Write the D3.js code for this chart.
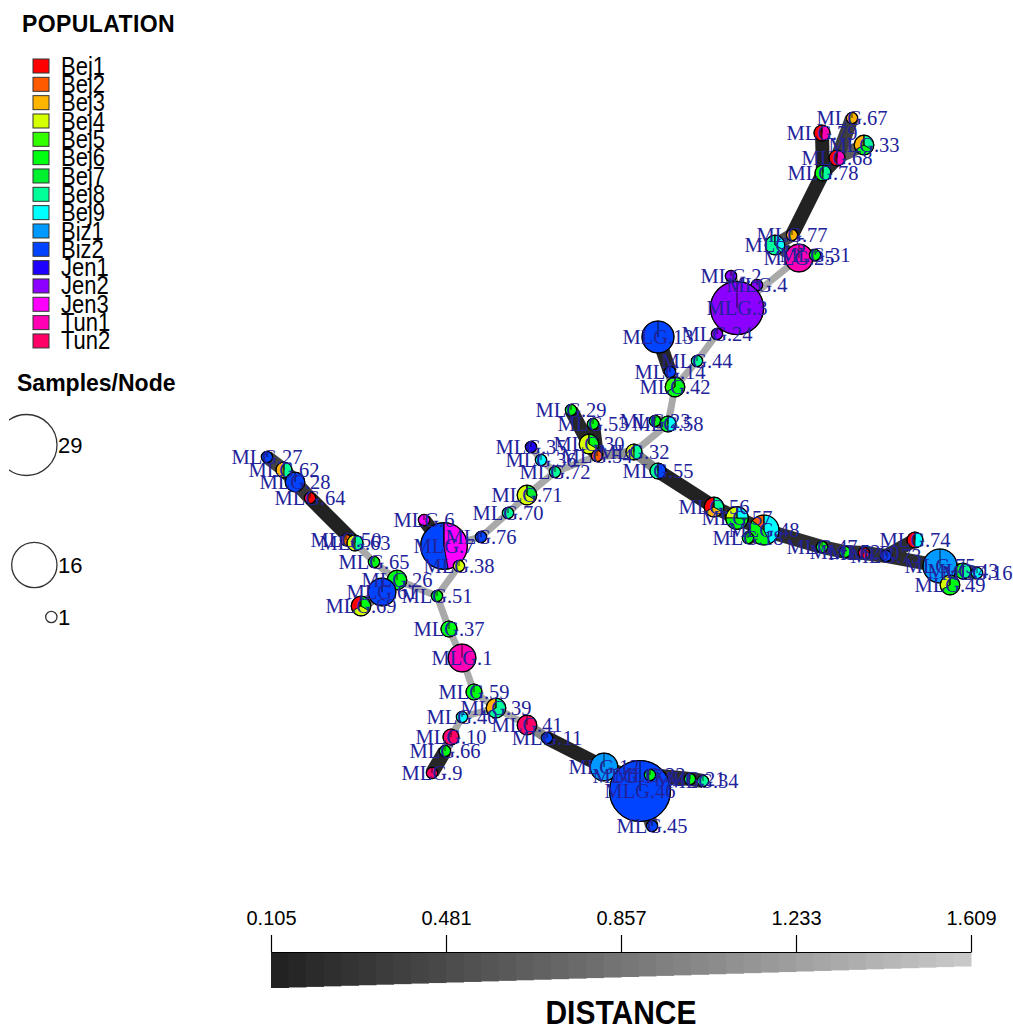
<!DOCTYPE html>
<html>
<head>
<meta charset="utf-8">
<style>
  body { margin: 0; background: #fff; }
  svg { display: block; }
  .mlg-label { font-family: "Liberation Serif", "Times New Roman", serif; font-size: 20.5px; fill: #22229a; }
  .legend-title { font-family: "Liberation Sans", Arial, sans-serif; font-weight: bold; font-size: 23px; }
  .legend-text { font-family: "Liberation Sans", Arial, sans-serif; font-size: 22px; }
</style>
</head>
<body>
<div id="chart"></div>
<script src="https://d3js.org/d3.v7.min.js"></script>
<script>
  // Populations and their colours
  const populations = ['Bej1', 'Bej2', 'Bej3', 'Bej4', 'Bej5', 'Bej6', 'Bej7', 'Bej8', 'Bej9',
    'Biz1', 'Biz2', 'Jen1', 'Jen2', 'Jen3', 'Tun1', 'Tun2'];
  const popColors = ['#ff0000', '#ff5a00', '#ffb400', '#d4ff00', '#33ff00', '#00ff11', '#00f030', '#00ff99', '#00ffff',
    '#0099ff', '#0044ff', '#1e00ff', '#8c00ff', '#ff00ff', '#ff00b4', '#ff0066'];

  // Multilocus genotypes (network nodes) with layout position and composition
  const mlgNames = ['MLG.67', 'MLG.79', 'MLG.33', 'MLG.68', 'MLG.78', 'MLG.77', 'MLG.5', 'MLG.25', 'MLG.31', 'MLG.2',
    'MLG.4', 'MLG.3', 'MLG.24', 'MLG.13', 'MLG.44', 'MLG.14', 'MLG.42', 'MLG.23', 'MLG.58', 'MLG.29',
    'MLG.53', 'MLG.30', 'MLG.54', 'MLG.32', 'MLG.55', 'MLG.35', 'MLG.36', 'MLG.72', 'MLG.71', 'MLG.70',
    'MLG.76', 'MLG.6', 'MLG.7', 'MLG.38', 'MLG.27', 'MLG.62', 'MLG.28', 'MLG.64', 'MLG.50', 'MLG.63',
    'MLG.65', 'MLG.26', 'MLG.61', 'MLG.69', 'MLG.51', 'MLG.37', 'MLG.1', 'MLG.59', 'MLG.39', 'MLG.40',
    'MLG.41', 'MLG.10', 'MLG.11', 'MLG.66', 'MLG.9', 'MLG.12', 'MLG.17', 'MLG.46', 'MLG.22', 'MLG.21',
    'MLG.34', 'MLG.45', 'MLG.56', 'MLG.57', 'MLG.48', 'MLG.18', 'MLG.47', 'MLG.52', 'MLG.60', 'MLG.73',
    'MLG.74', 'MLG.75', 'MLG.43', 'MLG.16', 'MLG.49'];
  const layoutX = [852, 822, 864, 837, 823, 792, 775, 799, 815, 731,
    757, 737, 717, 658, 697, 670, 675, 655, 668, 571,
    593, 589, 597, 634, 658, 531, 541, 555, 527, 508,
    481, 424, 444, 459, 267, 284, 295, 310, 346, 355,
    374, 397, 382, 361, 437, 449, 462, 474, 496, 462,
    527, 451, 547, 445, 432, 604, 628, 640, 650, 690,
    703, 652, 714, 737, 764, 748, 822, 845, 864, 886,
    915, 940, 963, 977, 950];
  const layoutY = [118, 133, 145, 158, 173, 235, 245, 258, 255, 276,
    285, 308, 334, 337, 361, 372, 387, 421, 424, 410,
    424, 444, 456, 452, 471, 447, 460, 472, 495, 513,
    537, 520, 546, 566, 457, 470, 482, 498, 540, 543,
    562, 580, 592, 606, 596, 629, 658, 692, 708, 717,
    725, 737, 738, 751, 773, 767, 776, 791, 775, 779,
    781, 826, 507, 518, 530, 538, 547, 552, 553, 556,
    540, 566, 571, 573, 585];
  const mlgCounts = [
    { Bej3: 1 }, { Bej1: 1, Tun1: 1 }, { Bej3: 1, Bej6: 1, Bej8: 1 }, { Bej1: 1, Tun1: 1 }, { Bej6: 1, Bej8: 1 },
    { Bej3: 1 }, { Bej8: 2, Bej9: 1 }, { Tun1: 6 }, { Bej6: 1 }, { Jen2: 1 },
    { Jen2: 1 }, { Jen2: 22 }, { Jen2: 1 }, { Biz2: 8 }, { Bej8: 1 },
    { Biz2: 1 }, { Bej5: 1, Bej6: 2 }, { Bej6: 1 }, { Bej6: 1, Bej9: 1 }, { Bej6: 1 },
    { Bej6: 1 }, { Bej4: 2, Bej6: 1 }, { Bej2: 1 }, { Bej4: 1, Bej8: 1 }, { Bej8: 1, Biz2: 1 },
    { Jen1: 1 }, { Bej9: 1 }, { Bej8: 1 }, { Bej4: 2, Bej7: 1 }, { Bej8: 1 },
    { Biz2: 1 }, { Jen3: 1 }, { Biz2: 9, Jen3: 8 }, { Bej4: 1 }, { Biz2: 1 },
    { Bej3: 1, Bej8: 1 }, { Biz2: 3 }, { Bej1: 1 }, { Bej2: 1 }, { Bej4: 1, Bej8: 1 },
    { Bej6: 1 }, { Bej6: 3 }, { Biz2: 6 }, { Bej1: 1, Bej4: 1, Bej6: 1 }, { Bej6: 1 },
    { Bej6: 2 }, { Tun1: 6 }, { Bej6: 2 }, { Bej3: 1, Bej8: 2 }, { Bej9: 1 },
    { Tun2: 3 }, { Tun2: 2 }, { Biz2: 1 }, { Bej6: 1 }, { Tun2: 1 },
    { Biz1: 6 }, { Bej3: 1, Bej6: 1, Bej8: 1 }, { Biz2: 29 }, { Bej6: 1 }, { Bej6: 1 },
    { Bej8: 1 }, { Biz2: 1 }, { Bej1: 1, Bej3: 1, Bej8: 1 }, { Bej4: 1, Bej6: 2, Bej9: 1 }, { Bej2: 1, Bej6: 3, Bej9: 3 },
    { Bej6: 1 }, { Bej6: 1 }, { Bej6: 1 }, { Bej1: 1 }, { Biz2: 1 },
    { Bej1: 1, Bej9: 1 }, { Biz1: 9 }, { Bej6: 1, Bej8: 1 }, { Bej9: 1 }, { Bej4: 1, Bej6: 2 }
  ];

  // Minimum spanning network edges and genetic distance
  const edgeFrom = ['MLG.67', 'MLG.79', 'MLG.68', 'MLG.33', 'MLG.78', 'MLG.77', 'MLG.5', 'MLG.25', 'MLG.25', 'MLG.3',
    'MLG.3', 'MLG.3', 'MLG.24', 'MLG.44', 'MLG.13', 'MLG.14', 'MLG.42', 'MLG.58', 'MLG.58', 'MLG.32',
    'MLG.55', 'MLG.56', 'MLG.57', 'MLG.48', 'MLG.48', 'MLG.47', 'MLG.52', 'MLG.60', 'MLG.73', 'MLG.73',
    'MLG.75', 'MLG.43', 'MLG.75', 'MLG.32', 'MLG.54', 'MLG.30', 'MLG.54', 'MLG.54', 'MLG.72', 'MLG.36',
    'MLG.72', 'MLG.71', 'MLG.70', 'MLG.76', 'MLG.7', 'MLG.7', 'MLG.38', 'MLG.51', 'MLG.37', 'MLG.1',
    'MLG.59', 'MLG.39', 'MLG.39', 'MLG.40', 'MLG.10', 'MLG.66', 'MLG.41', 'MLG.11', 'MLG.12', 'MLG.17',
    'MLG.46', 'MLG.22', 'MLG.21', 'MLG.46', 'MLG.51', 'MLG.26', 'MLG.61', 'MLG.26', 'MLG.65', 'MLG.63',
    'MLG.63', 'MLG.64', 'MLG.28', 'MLG.62'];
  const edgeTo = ['MLG.68', 'MLG.78', 'MLG.78', 'MLG.68', 'MLG.77', 'MLG.5', 'MLG.25', 'MLG.31', 'MLG.3', 'MLG.2',
    'MLG.4', 'MLG.24', 'MLG.44', 'MLG.42', 'MLG.14', 'MLG.42', 'MLG.58', 'MLG.23', 'MLG.32', 'MLG.55',
    'MLG.56', 'MLG.57', 'MLG.48', 'MLG.18', 'MLG.47', 'MLG.52', 'MLG.60', 'MLG.73', 'MLG.75', 'MLG.74',
    'MLG.43', 'MLG.16', 'MLG.49', 'MLG.54', 'MLG.30', 'MLG.29', 'MLG.53', 'MLG.72', 'MLG.36', 'MLG.35',
    'MLG.71', 'MLG.70', 'MLG.76', 'MLG.7', 'MLG.6', 'MLG.38', 'MLG.51', 'MLG.37', 'MLG.1', 'MLG.59',
    'MLG.39', 'MLG.41', 'MLG.40', 'MLG.10', 'MLG.66', 'MLG.9', 'MLG.11', 'MLG.12', 'MLG.17', 'MLG.46',
    'MLG.22', 'MLG.21', 'MLG.34', 'MLG.45', 'MLG.26', 'MLG.61', 'MLG.69', 'MLG.65', 'MLG.63', 'MLG.50',
    'MLG.64', 'MLG.28', 'MLG.62', 'MLG.27'];
  const edgeDist = [0.35, 0.105, 0.2, 0.6, 0.105, 0.5, 0.5, 0.5, 1.3, 0.8,
    0.8, 1.3, 1.3, 1.3, 0.15, 0.8, 1.3, 0.8, 1.3, 1.0,
    0.105, 0.2, 0.2, 0.2, 0.2, 0.25, 0.25, 0.25, 0.2, 0.2,
    0.4, 0.4, 0.4, 1.1, 0.5, 0.15, 0.15, 1.3, 1.3, 1.3,
    1.3, 1.3, 1.3, 1.3, 0.15, 1.0, 1.3, 1.3, 1.3, 1.3,
    1.3, 1.3, 1.3, 1.3, 1.0, 0.15, 1.0, 0.105, 0.3, 0.3,
    0.2, 0.2, 0.2, 0.5, 1.3, 0.8, 0.8, 1.3, 1.3, 0.6,
    0.105, 0.3, 0.3, 0.4];

  // Legend values
  const sizeLegend = [29, 16, 1];
  const distanceTicks = [0.105, 0.481, 0.857, 1.233, 1.609];

  const width = 1013;
  const height = 1030;

  const svg = d3.select('#chart')
    .append('svg')
    .attr('width', width)
    .attr('height', height);

  // Scales
  const xScale = d3.scaleLinear().domain([200, 1000]).range([200, 1000]);
  const yScale = d3.scaleLinear().domain([100, 850]).range([100, 850]);
  const sizeScale = d3.scaleSqrt().domain([0, 29]).range([0, 30.5]);
  const colorScale = d3.scaleOrdinal().domain(populations).range(popColors);
  const distExtent = [distanceTicks[0], distanceTicks[distanceTicks.length - 1]];
  const edgeColor = d3.scaleLinear().domain(distExtent).range(['#222222', '#cccccc']);
  const edgeWidth = d3.scalePow().exponent(2.4).domain(distExtent).range([14, 2.2]);

  const nodes = mlgNames.map((name, i) => ({
    name,
    x: xScale(layoutX[i]),
    y: yScale(layoutY[i]),
    counts: populations.map((p) => mlgCounts[i][p] || 0)
  }));
  nodes.forEach((d) => { d.total = d3.sum(d.counts); });
  const byName = new Map(nodes.map((d) => [d.name, d]));

  const edges = edgeFrom.map((f, i) => ({
    source: byName.get(f),
    target: byName.get(edgeTo[i]),
    dist: edgeDist[i]
  }));

  // Edges (light ones first so dark ones lie on top)
  svg.append('g')
    .selectAll('line')
    .data(edges.slice().sort((a, b) => b.dist - a.dist))
    .enter()
    .append('line')
    .attr('x1', (d) => d.source.x)
    .attr('y1', (d) => d.source.y)
    .attr('x2', (d) => d.target.x)
    .attr('y2', (d) => d.target.y)
    .attr('stroke', (d) => edgeColor(d.dist))
    .attr('stroke-width', (d) => edgeWidth(d.dist));

  // Pie nodes, counter-clockwise from 12 o'clock
  const pie = d3.pie().sort(null).startAngle(0).endAngle(-2 * Math.PI);
  const nodeG = svg.append('g')
    .selectAll('g')
    .data(nodes)
    .enter()
    .append('g')
    .attr('transform', (d) => `translate(${d.x},${d.y})`);

  nodeG.each(function (d) {
    const r = sizeScale(d.total);
    const arc = d3.arc().innerRadius(0).outerRadius(r);
    const g = d3.select(this);
    g.selectAll('path')
      .data(pie(d.counts).filter((s) => s.value > 0))
      .enter()
      .append('path')
      .attr('d', arc)
      .attr('fill', (s) => popColors[s.index])
      .attr('stroke', '#000')
      .attr('stroke-width', 0.8);
    g.append('line')
      .attr('x1', 0).attr('y1', 0)
      .attr('x2', 0).attr('y2', -r)
      .attr('stroke', '#000')
      .attr('stroke-width', 0.8);
    g.append('circle')
      .attr('r', r)
      .attr('fill', 'none')
      .attr('stroke', '#000')
      .attr('stroke-width', 1.2);
  });

  // Node labels
  svg.append('g')
    .selectAll('text')
    .data(nodes)
    .enter()
    .append('text')
    .attr('class', 'mlg-label')
    .attr('x', (d) => d.x)
    .attr('y', (d) => d.y)
    .attr('text-anchor', 'middle')
    .attr('dominant-baseline', 'central')
    .text((d) => d.name);

  // Population legend
  svg.append('text')
    .attr('class', 'legend-title')
    .attr('x', 22)
    .attr('y', 32)
    .attr('letter-spacing', 0.4)
    .text('POPULATION');

  const popLegend = svg.append('g')
    .selectAll('g')
    .data(populations)
    .enter()
    .append('g')
    .attr('transform', (d, i) => `translate(33, ${66 + i * 18.33})`);

  popLegend.append('rect')
    .attr('x', 0)
    .attr('y', -7)
    .attr('width', 16)
    .attr('height', 14)
    .attr('fill', (d) => colorScale(d))
    .attr('stroke', '#333')
    .attr('stroke-width', 1);

  popLegend.append('text')
    .attr('class', 'legend-text')
    .attr('x', 28)
    .attr('y', 0)
    .attr('dominant-baseline', 'central')
    .attr('transform', 'scale(1,1.15)')
    .text((d) => d);

  // Samples/Node legend
  svg.append('text')
    .attr('class', 'legend-title')
    .attr('x', 17)
    .attr('y', 391)
    .text('Samples/Node');

  svg.append('clipPath')
    .attr('id', 'legend-clip')
    .append('rect')
    .attr('x', 9).attr('y', 380).attr('width', 200).attr('height', 300);

  const sizeY = [445, 565, 617];
  const sizeG = svg.append('g')
    .attr('clip-path', 'url(#legend-clip)')
    .selectAll('g')
    .data(sizeLegend)
    .enter()
    .append('g')
    .attr('transform', (d, i) => `translate(${57 - sizeScale(d)}, ${sizeY[i]})`);

  sizeG.append('circle')
    .attr('r', (d) => sizeScale(d))
    .attr('fill', 'none')
    .attr('stroke', '#333')
    .attr('stroke-width', 1.3);

  sizeG.append('text')
    .attr('class', 'legend-text')
    .attr('x', (d) => sizeScale(d) + 1)
    .attr('y', 0)
    .attr('dominant-baseline', 'central')
    .text((d) => d);

  // Distance colour bar
  const distScale = d3.scaleLinear().domain(distExtent).range([271, 971]);
  const barTop = 952;
  const barHeight = d3.scaleLinear().domain(distExtent).range([36, 14]);
  const steps = d3.range(40).map((i) => distExtent[0] + (distExtent[1] - distExtent[0]) * i / 40);
  const stepW = (distScale(distExtent[1]) - distScale(distExtent[0])) / 40;

  svg.append('g')
    .selectAll('rect')
    .data(steps)
    .enter()
    .append('rect')
    .attr('x', (d) => distScale(d))
    .attr('y', barTop)
    .attr('width', stepW + 0.5)
    .attr('height', (d) => barHeight(d))
    .attr('fill', (d) => edgeColor(d));

  const axis = d3.axisTop(distScale)
    .tickValues(distanceTicks)
    .tickFormat(d3.format('.3f'))
    .tickSize(17)
    .tickSizeOuter(0)
    .tickPadding(10);

  const axisG = svg.append('g')
    .attr('transform', `translate(0, ${barTop})`)
    .call(axis);
  axisG.selectAll('text')
    .attr('font-family', '"Liberation Sans", Arial, sans-serif')
    .attr('font-size', 20)
    .attr('fill', '#000');
  axisG.selectAll('line, path').attr('stroke', '#000').attr('stroke-width', 1.2);

  svg.append('text')
    .attr('transform', 'translate(621, 1024) scale(1, 1.12)')
    .attr('text-anchor', 'middle')
    .attr('font-family', '"Liberation Sans", Arial, sans-serif')
    .attr('font-weight', 'bold')
    .attr('font-size', 30)
    .text('DISTANCE');
</script>
</body>
</html>
